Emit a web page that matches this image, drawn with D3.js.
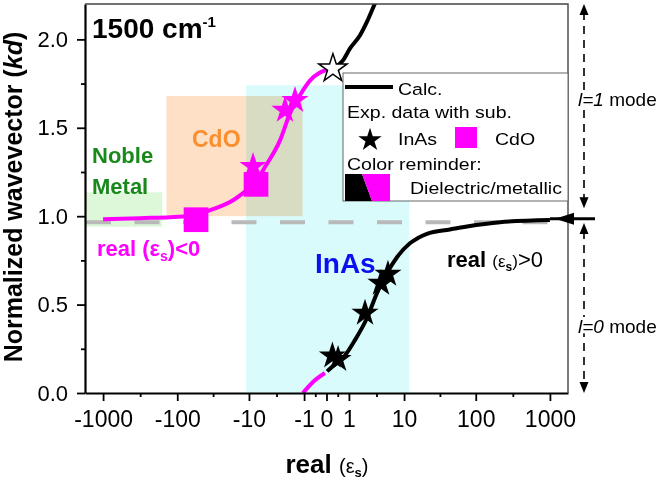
<!DOCTYPE html>
<html>
<head>
<meta charset="utf-8">
<script src="https://cdnjs.cloudflare.com/ajax/libs/d3/7.8.5/d3.min.js"></script>
<style>
body { margin: 0; background: #fff; }
svg { display: block; font-family: "Liberation Sans", Arial, Helvetica, sans-serif; }
</style>
</head>
<body>
<div id="chart"></div>
<script>
// axis ticks
const xTicks = [-1000, -100, -10, -1, 0, 1, 10, 100, 1000];
const xTickLabels = ["-1000", "-100", "-10", "-1", "0", "1", "10", "100", "1000"];
const yTicks = [0, 0.5, 1, 1.5, 2];
const yTickLabels = ["0.0", "0.5", "1.0", "1.5", "2.0"];
const yMinorTicks = [0.25, 0.75, 1.25, 1.75];

// calculated kd vs real(eps_s), split where real(eps_s) changes sign
const upperMetallic = [[-1000, 0.982], [-318, 0.989], [-125, 0.994], [-83, 0.998], [-38, 1.03], [-17, 1.09], [-10.7, 1.147], [-7.8, 1.19], [-6.1, 1.26], [-3.2, 1.43], [-2.1, 1.58], [-1.27, 1.684], [-0.66, 1.768], [-0.22, 1.812], [0.22, 1.835]];
const upperDielectric = [[0.22, 1.835], [0.665, 1.881], [1.07, 1.949], [1.82, 2.023], [2.5, 2.1], [3.48, 2.203], [4.2, 2.26]];
const lowerMetallic = [[-1.07, 0], [-0.52, 0.062], [-0.05, 0.113]];
const lowerDielectric = [[0.02, 0.122], [0.22, 0.153], [0.665, 0.198], [1.41, 0.299], [2.5, 0.424], [3.76, 0.565], [5.49, 0.678], [7.84, 0.768], [12.2, 0.847], [15.9, 0.876], [21.3, 0.9], [44.5, 0.925], [76, 0.942], [212, 0.966], [1000, 0.978]];

// experimental points
const inasDielectric = [[0.2, 0.21], [0.43, 0.19], [2.29, 0.452], [4.39, 0.621], [5.69, 0.672]];
const inasMetallic = [[-8.7, 1.282], [-2.61, 1.599], [-1.65, 1.655]];
const cdoMetallic = [[-55.5, 0.98], [-7.84, 1.18]];
const enzPoint = [[0.22, 1.835]];

// material ranges
const regionNames = ["InAs", "Noble Metal", "CdO"];
const regionEps = [[-11, 12], [-1750, -160], [-140, -1.1]];
const regionKd = [[0, 1.74], [0.94, 1.135], [1.0, 1.68]];

const lightLineKd = 0.966;   // grey dashed light line
const asymptoteKd = 0.985;   // l=0 / l=1 boundary

const width = 666, height = 479;
const m = {left: 85, top: 4};
const pw = 483, ph = 389;

const svg = d3.select("#chart").append("svg")
    .attr("width", width)
    .attr("height", height);

svg.append("defs").append("clipPath").attr("id", "plot-clip")
    .append("rect").attr("width", pw).attr("height", ph);

const g = svg.append("g").attr("transform", `translate(${m.left},${m.top})`);

const x = d3.scaleSymlog().constant(1).domain([-1750, 1750]).range([0, pw]);
const y = d3.scaleLinear().domain([0, 2.2]).range([ph, 0]);

// shaded ranges
const regionFill = {"InAs": "#d9fbfb", "Noble Metal": "#dcf8d8", "CdO": "#fde0c5"};
g.append("g").selectAll("rect")
    .data(regionNames)
    .join("rect")
    .attr("x", (d, i) => x(regionEps[i][0]))
    .attr("width", (d, i) => x(regionEps[i][1]) - x(regionEps[i][0]))
    .attr("y", (d, i) => y(regionKd[i][1]))
    .attr("height", (d, i) => y(regionKd[i][0]) - y(regionKd[i][1]))
    .attr("fill", d => regionFill[d])
    .style("mix-blend-mode", "multiply");

// light line
g.append("line")
    .attr("x1", 1).attr("x2", x(1000))
    .attr("y1", y(lightLineKd)).attr("y2", y(lightLineKd))
    .attr("stroke", "#b9b9b9")
    .attr("stroke-width", 4)
    .attr("stroke-dasharray", "25,23.5");

// labels in the plot
function addText(parent, px, py, parts) {
    const t = parent.append("text").attr("x", px).attr("y", py);
    parts.forEach(p => {
        const s = t.append("tspan").text(p.t);
        if (p.size) s.attr("font-size", p.size);
        if (p.w) s.attr("font-weight", p.w);
        if (p.st) s.attr("font-style", p.st);
        if (p.dy) s.attr("dy", p.dy);
        if (p.fill) s.attr("fill", p.fill);
    });
    return t;
}

addText(g, 7, 159, [{t: "Noble", size: 22, w: "bold", fill: "#18891a"}]);
addText(g, 7, 190, [{t: "Metal", size: 22, w: "bold", fill: "#18891a"}]);
addText(g, 107, 143, [{t: "CdO", size: 23, w: "bold", fill: "#f98f2e"}]);
addText(g, 230, 269, [{t: "InAs", size: 28, w: "bold", fill: "#0a10ee"}]);
addText(g, 7, 34, [{t: "1500 cm", size: 28, w: "bold"}, {t: "-1", size: 15, w: "bold", dy: -11}]);
addText(g, 12, 252, [
    {t: "real (ε", size: 22, w: "bold", fill: "#ff00ff"},
    {t: "s", size: 14, w: "bold", dy: 5, fill: "#ff00ff"},
    {t: ")<0", size: 22, w: "bold", dy: -5, fill: "#ff00ff"}
]);
addText(g, 362, 263, [
    {t: "real ", size: 22, w: "bold"},
    {t: "(ε", size: 17},
    {t: "s", size: 12, w: "bold", dy: 4},
    {t: ")", size: 17, dy: -4},
    {t: ">0", size: 22}
]);

// curves
const line = d3.line()
    .x(d => x(d[0]))
    .y(d => y(d[1]))
    .curve(d3.curveMonotoneX);

const curves = g.append("g").attr("clip-path", "url(#plot-clip)");
[[upperMetallic, "#ff00ff"], [upperDielectric, "#000"], [lowerMetallic, "#ff00ff"], [lowerDielectric, "#000"]]
    .forEach(([data, color]) => {
        curves.append("path")
            .attr("d", line(data))
            .attr("fill", "none")
            .attr("stroke", color)
            .attr("stroke-width", 4);
    });

// markers
const star = d3.symbol().type(d3.symbolStar).size(230);
const square = d3.symbol().type(d3.symbolSquare).size(610);
const at = d => `translate(${x(d[0])},${y(d[1])})`;

g.append("g").selectAll("path").data(cdoMetallic).join("path")
    .attr("d", square).attr("transform", at).attr("fill", "#ff00ff");
g.append("g").selectAll("path").data(inasMetallic).join("path")
    .attr("d", star).attr("transform", at).attr("fill", "#ff00ff");
g.append("g").selectAll("path").data(inasDielectric).join("path")
    .attr("d", star).attr("transform", at).attr("fill", "#000");
g.append("g").selectAll("path").data(enzPoint).join("path")
    .attr("d", d3.symbol().type(d3.symbolStar).size(250))
    .attr("transform", at)
    .attr("fill", "#fff").attr("stroke", "#000").attr("stroke-width", 1.5);

// axes
const xAxis = g.append("g")
    .attr("transform", `translate(0,${ph})`)
    .call(d3.axisBottom(x).tickValues(xTicks)
        .tickFormat((d, i) => xTickLabels[i])
        .tickSize(8).tickSizeOuter(0).tickPadding(10));
const xMinor = d3.pairs(xTicks).map(([a, b]) => x.invert((x(a) + x(b)) / 2));
g.append("g")
    .attr("transform", `translate(0,${ph})`)
    .call(d3.axisBottom(x).tickValues(xMinor).tickFormat("").tickSize(4).tickSizeOuter(0))
    .call(a => a.select(".domain").remove());

const yAxis = g.append("g")
    .call(d3.axisLeft(y).tickValues(yTicks)
        .tickFormat((d, i) => yTickLabels[i])
        .tickSize(8).tickSizeOuter(0).tickPadding(9));
g.append("g")
    .call(d3.axisLeft(y).tickValues(yMinorTicks).tickFormat("").tickSize(4).tickSizeOuter(0))
    .call(a => a.select(".domain").remove());

[xAxis, yAxis].forEach(a => {
    a.attr("font-family", null);
    a.select(".domain").attr("stroke-width", 2.2);
});
g.selectAll(".tick line").attr("stroke-width", 1.8);
xAxis.selectAll("text").attr("font-size", 23).attr("fill", "#000");
yAxis.selectAll("text").attr("font-size", 22).attr("fill", "#000");

// top and right frame
g.append("path")
    .attr("d", `M0,0H${pw}V${ph}`)
    .attr("fill", "none")
    .attr("stroke", "#444")
    .attr("stroke-width", 1.4);

// legend
const lg = g.append("g").attr("transform", "translate(258,69)");
lg.append("rect")
    .attr("width", 225).attr("height", 128)
    .attr("fill", "#fff").attr("stroke", "#666").attr("stroke-width", 1);
lg.append("line").attr("x1", 2).attr("x2", 50).attr("y1", 14).attr("y2", 14)
    .attr("stroke", "#000").attr("stroke-width", 4);
lg.append("path").attr("d", d3.symbol().type(d3.symbolStar).size(170))
    .attr("transform", "translate(27,67)").attr("fill", "#000");
lg.append("rect").attr("x", 112).attr("y", 54).attr("width", 22).attr("height", 21).attr("fill", "#ff00ff");
lg.append("path").attr("d", "M2,101H19L29,128H2Z").attr("fill", "#000");
lg.append("path").attr("d", "M19,101H47V128H29Z").attr("fill", "#ff00ff");

const legendText = [
    ["Calc.", 55, 22],
    ["Exp. data with sub.", 4, 45],
    ["InAs", 55, 72],
    ["CdO", 152, 72],
    ["Color reminder:", 4, 97],
    ["Dielectric/metallic", 67, 121]
];
lg.selectAll("text.leg").data(legendText).join("text")
    .attr("class", "leg")
    .attr("transform", d => `translate(${d[1]},${d[2]}) scale(1.15,1)`)
    .attr("font-size", 17)
    .text(d => d[0]);

// mode annotations on the right
const ax = pw + 16;
const ann = g.append("g");
function vArrow(k0, k1) {
    const y0 = y(k0), y1 = y(k1);
    ann.append("line").attr("x1", ax).attr("x2", ax)
        .attr("y1", y0 + 8).attr("y2", y1 - 8)
        .attr("stroke", "#000").attr("stroke-width", 1.6).attr("stroke-dasharray", "8,6");
    ann.append("path").attr("d", `M${ax},${y0}l-4.5,11h9Z`).attr("fill", "#000");
    ann.append("path").attr("d", `M${ax},${y1}l-4.5,-11h9Z`).attr("fill", "#000");
}
vArrow(2.2, 1.045);
vArrow(0.962, 0);

const ya = y(asymptoteKd);
ann.append("line").attr("x1", x(1000)).attr("x2", pw + 27).attr("y1", ya).attr("y2", ya)
    .attr("stroke", "#000").attr("stroke-width", 3);
ann.append("path").attr("d", `M${pw - 13},${ya}l19,-6v12Z`).attr("fill", "#000");

[["l=1", 1.655], ["l=0", 0.375]].forEach(([lab, k]) => {
    const t = ann.append("text")
        .attr("x", pw + 10).attr("y", y(k) + 6)
        .attr("font-size", 19)
        .attr("stroke", "#fff").attr("stroke-width", 6)
        .attr("paint-order", "stroke");
    t.append("tspan").attr("font-style", "italic").text(lab);
    t.append("tspan").text(" mode");
});

// axis titles
const yt = svg.append("text")
    .attr("transform", "translate(22,197) rotate(-90)")
    .attr("text-anchor", "middle")
    .attr("font-size", 25)
    .attr("font-weight", "bold");
yt.append("tspan").text("Normalized wavevector (");
yt.append("tspan").attr("font-style", "italic").text("kd");
yt.append("tspan").text(")");

const xt = svg.append("text")
    .attr("x", 327).attr("y", 473)
    .attr("text-anchor", "middle");
xt.append("tspan").attr("font-size", 26).attr("font-weight", "bold").text("real ");
xt.append("tspan").attr("font-size", 20).text("(ε");
xt.append("tspan").attr("font-size", 13).attr("font-weight", "bold").attr("dy", 4).text("s");
xt.append("tspan").attr("font-size", 20).attr("dy", -4).text(")");
</script>
</body>
</html>
